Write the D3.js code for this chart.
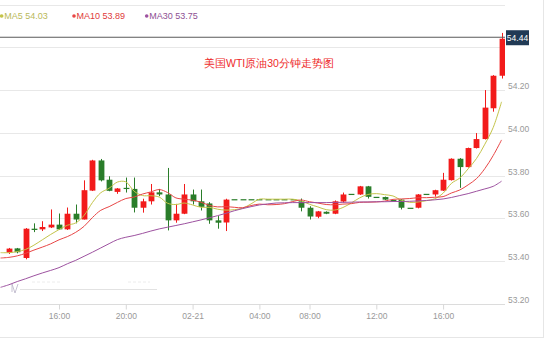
<!DOCTYPE html>
<html><head><meta charset="utf-8">
<script src="https://cdn.jsdelivr.net/npm/d3@7"></script>
<style>
body{margin:0;background:#fff}
svg{display:block}
text{font-family:"Liberation Sans",Arial,sans-serif}
</style>
</head><body>
<svg id="c" width="550" height="340"></svg>
<script>
// ---- data ----
const times = ["12:30","13:00","13:30","14:00","14:30","15:00","15:30","16:00","16:30","17:00","17:30","18:00","18:30","19:00","19:30","20:00","20:30","21:00","21:30","22:00","22:30","23:00","23:30","00:00","00:30","01:00","01:30","02:00","02:30","03:00","03:30","04:00","04:30","05:00","05:30","07:00","07:30","08:00","08:30","09:00","09:30","10:00","10:30","11:00","11:30","12:00","12:30","13:00","13:30","14:00","14:30","15:00","15:30","16:00","16:30","17:00","17:30","18:00","18:30","19:00","19:30"];
const openP  = [null,53.440,53.460,53.415,53.552,53.549,53.558,53.571,53.549,53.622,53.595,53.730,53.871,53.781,53.724,53.743,53.738,53.650,53.680,53.722,53.712,53.591,53.622,53.712,53.680,53.670,53.591,53.581,53.690,53.690,53.690,53.690,53.690,53.690,53.690,53.690,53.680,53.650,53.608,53.631,53.622,53.679,53.715,53.712,53.750,53.701,53.700,53.686,53.688,53.650,53.650,53.715,53.712,53.730,53.779,53.879,53.840,53.929,53.971,54.115,54.267];
const highP  = [null,53.462,53.462,53.555,53.577,53.587,53.642,53.623,53.651,53.665,53.778,53.874,53.878,53.797,53.742,53.791,53.791,53.692,53.761,53.738,53.836,53.668,53.761,53.735,53.735,53.676,53.611,53.692,53.690,53.690,53.690,53.690,53.690,53.690,53.690,53.690,53.693,53.657,53.635,53.633,53.684,53.721,53.715,53.752,53.752,53.701,53.702,53.686,53.690,53.650,53.714,53.715,53.734,53.813,53.881,53.882,53.931,53.999,54.200,54.270,54.467];
const lowP   = [null,53.434,53.437,53.409,53.536,53.541,53.555,53.546,53.546,53.577,53.595,53.728,53.773,53.727,53.715,53.721,53.628,53.627,53.665,53.704,53.544,53.580,53.620,53.665,53.637,53.575,53.552,53.541,53.690,53.690,53.690,53.690,53.690,53.690,53.690,53.690,53.633,53.595,53.601,53.620,53.620,53.674,53.715,53.710,53.693,53.701,53.686,53.686,53.642,53.650,53.647,53.715,53.702,53.728,53.777,53.743,53.838,53.927,53.969,54.099,54.254];
const closeP = [null,53.459,53.442,53.552,53.546,53.560,53.571,53.549,53.622,53.595,53.732,53.871,53.778,53.729,53.740,53.738,53.650,53.680,53.722,53.712,53.591,53.622,53.712,53.680,53.654,53.591,53.580,53.688,53.690,53.690,53.690,53.690,53.690,53.690,53.690,53.690,53.650,53.609,53.633,53.622,53.680,53.712,53.715,53.750,53.701,53.701,53.688,53.686,53.650,53.650,53.712,53.715,53.732,53.781,53.879,53.840,53.929,53.971,54.118,54.267,54.440];
const ma5  = [53.440,53.440,53.445,53.455,53.475,53.500,53.525,53.548,53.568,53.579,53.614,53.674,53.720,53.741,53.770,53.771,53.727,53.707,53.706,53.700,53.671,53.665,53.672,53.663,53.652,53.652,53.643,53.639,53.641,53.648,53.668,53.690,53.690,53.690,53.690,53.690,53.682,53.666,53.654,53.641,53.639,53.651,53.672,53.696,53.712,53.716,53.711,53.705,53.685,53.675,53.677,53.683,53.692,53.718,53.764,53.789,53.832,53.880,53.947,54.025,54.145];
const ma10 = [53.415,53.418,53.425,53.437,53.452,53.466,53.481,53.500,53.515,53.535,53.563,53.604,53.638,53.655,53.675,53.693,53.700,53.714,53.724,53.735,53.721,53.696,53.690,53.685,53.676,53.661,53.654,53.655,53.652,53.650,53.660,53.667,53.664,53.665,53.669,53.679,53.686,53.678,53.672,53.665,53.664,53.667,53.669,53.675,53.676,53.677,53.681,53.689,53.691,53.693,53.697,53.697,53.699,53.702,53.719,53.733,53.757,53.786,53.833,53.894,53.967];
const ma30 = [53.278,53.290,53.305,53.318,53.332,53.345,53.357,53.370,53.388,53.404,53.423,53.442,53.462,53.482,53.501,53.512,53.520,53.530,53.541,53.551,53.559,53.567,53.575,53.584,53.593,53.603,53.613,53.624,53.636,53.646,53.655,53.663,53.668,53.672,53.673,53.674,53.674,53.674,53.674,53.674,53.675,53.675,53.676,53.677,53.677,53.678,53.678,53.679,53.679,53.680,53.682,53.684,53.687,53.691,53.698,53.707,53.716,53.727,53.738,53.750,53.774];
const legendNames = ["MA5","MA10","MA30"];
const legendValues = ["54.03","53.89","53.75"];
const xTickIdx = [7,15,23,31,37,45,53];
const xTickLabels = ["16:00","20:00","02-21","04:00","08:00","12:00","16:00"];
const yTicks = [53.2,53.4,53.6,53.8,54.0,54.2];
const yGrid = [53.2,53.4,53.6,53.8,54.0,54.2,54.4,54.6];
const lastPrice = 54.44;
const title = "美国WTI原油30分钟走势图";

// ---- chart ----
const svg = d3.select("#c");
const W = 505;
const x = d3.scaleLinear().domain([0, times.length-1]).range([0.55, 501.55]);
const y = d3.scaleLinear().domain([53.2, 54.6]).range([304, 4.5]);
const upC = "#f21b1b", downC = "#2a7d2a";
const lineC = ["#c4c44a","#e84646","#9d52a0"];
const legendTextC = ["#b9b95a","#e03a3a","#8e4f93"];

svg.append("rect").attr("width",550).attr("height",340).attr("fill","#fff");

// frame (right and bottom)
svg.append("line").attr("x1",543.5).attr("x2",543.5).attr("y1",0).attr("y2",338).attr("stroke","#e6e6e6");
svg.append("line").attr("x1",0).attr("x2",543.5).attr("y1",337.5).attr("y2",337.5).attr("stroke","#e6e6e6");

// gridlines
svg.append("g").selectAll("line").data(yGrid).join("line")
  .attr("x1",0).attr("x2",W)
  .attr("y1",d=>Math.round(y(d))+0.5).attr("y2",d=>Math.round(y(d))+0.5)
  .attr("stroke",d=>d===53.2?"#dcdcdc":"#e8e8e8");

// y labels
svg.append("g").selectAll("text").data(yTicks).join("text")
  .attr("x",508).attr("y",d=>y(d)-1)
  .attr("font-size","8.5px").attr("fill","#999").text(d=>d3.format(".2f")(d));

// x axis
const xAxis = d3.axisBottom(x).tickValues(xTickIdx).tickSize(5).tickPadding(3)
  .tickFormat((d,i)=>xTickLabels[i]);
const gx = svg.append("g").attr("transform","translate(0,304.5)").call(xAxis);
gx.select(".domain").remove();
gx.selectAll(".tick line").attr("stroke","#d8d8d8");
gx.selectAll(".tick text").attr("fill","#999").attr("font-size","8.5px")
  .attr("font-family","Liberation Sans, Arial, sans-serif");

// faint artefacts bottom-left
svg.append("line").attr("x1",20).attr("x2",157).attr("y1",289.5).attr("y2",289.5).attr("stroke","#e2e2e2");
svg.append("line").attr("x1",32).attr("x2",60).attr("y1",282).attr("y2",282).attr("stroke","#ececec").attr("stroke-dasharray","3,2");
svg.append("line").attr("x1",128).attr("x2",150).attr("y1",282).attr("y2",282).attr("stroke","#ececec").attr("stroke-dasharray","3,2");
svg.append("path").attr("d","M12,284 L15,293 L18,284 M12,284 L12,292").attr("fill","none").attr("stroke","#b9b2c6").attr("stroke-width",0.8);

// clip
svg.append("clipPath").attr("id","clip").append("rect").attr("x",0).attr("y",0).attr("width",W).attr("height",304);
const plot = svg.append("g").attr("clip-path","url(#clip)");

// candles
const idx = d3.range(times.length).filter(i=>openP[i]!==null);
const bw = 5.8;
const col = i => closeP[i] > openP[i] ? upC : downC;
plot.append("g").selectAll("line").data(idx).join("line")
  .attr("x1",i=>Math.round(x(i))+0.5).attr("x2",i=>Math.round(x(i))+0.5)
  .attr("y1",i=>y(highP[i])).attr("y2",i=>y(lowP[i]))
  .attr("stroke",col).attr("stroke-width",1);
plot.append("g").selectAll("rect").data(idx).join("rect")
  .attr("x",i=>Math.round(x(i))+0.5-bw/2).attr("width",bw)
  .attr("y",i=>y(Math.max(openP[i],closeP[i])))
  .attr("height",i=>Math.max(1.2, Math.abs(y(openP[i])-y(closeP[i]))))
  .attr("fill",col);

// MA lines
const mk = arr => d3.line().x((d,i)=>x(i)).y(d=>y(d)).curve(d3.curveCatmullRom.alpha(0.5))(arr);
[ma5, ma10, ma30].forEach((arr,k)=>{
  plot.append("path").attr("d",mk(arr)).attr("fill","none")
    .attr("stroke",lineC[k]).attr("stroke-width",1);
});

// last price line and label
svg.append("line").attr("x1",0).attr("x2",W).attr("y1",y(lastPrice)-1.5).attr("y2",y(lastPrice)-1.5)
  .attr("stroke","#5a5a5a").attr("stroke-width",1.2);
svg.append("rect").attr("x",506).attr("y",y(lastPrice)-8.5).attr("width",23).attr("height",15).attr("fill","#213a55");
svg.append("text").attr("x",517.5).attr("y",y(lastPrice)+2.2).attr("text-anchor","middle")
  .attr("font-size","8.5px").attr("fill","#fff").text(d3.format(".2f")(lastPrice));

// title
svg.append("text").attr("x",269).attr("y",67).attr("text-anchor","middle")
  .attr("font-family","'Noto Sans CJK SC',sans-serif").attr("font-size","10.5px")
  .attr("fill","#ee2a2a").text(title);

// legend
const lx = [1.7, 74, 146.7];
legendNames.forEach((n,k)=>{
  svg.append("circle").attr("cx",lx[k]).attr("cy",16).attr("r",1.8).attr("fill",lineC[k]);
  svg.append("text").attr("x",lx[k]+2.5).attr("y",19).attr("font-size","9px")
    .attr("fill",legendTextC[k]).text(n+" "+legendValues[k]);
});
</script>
</body></html>
